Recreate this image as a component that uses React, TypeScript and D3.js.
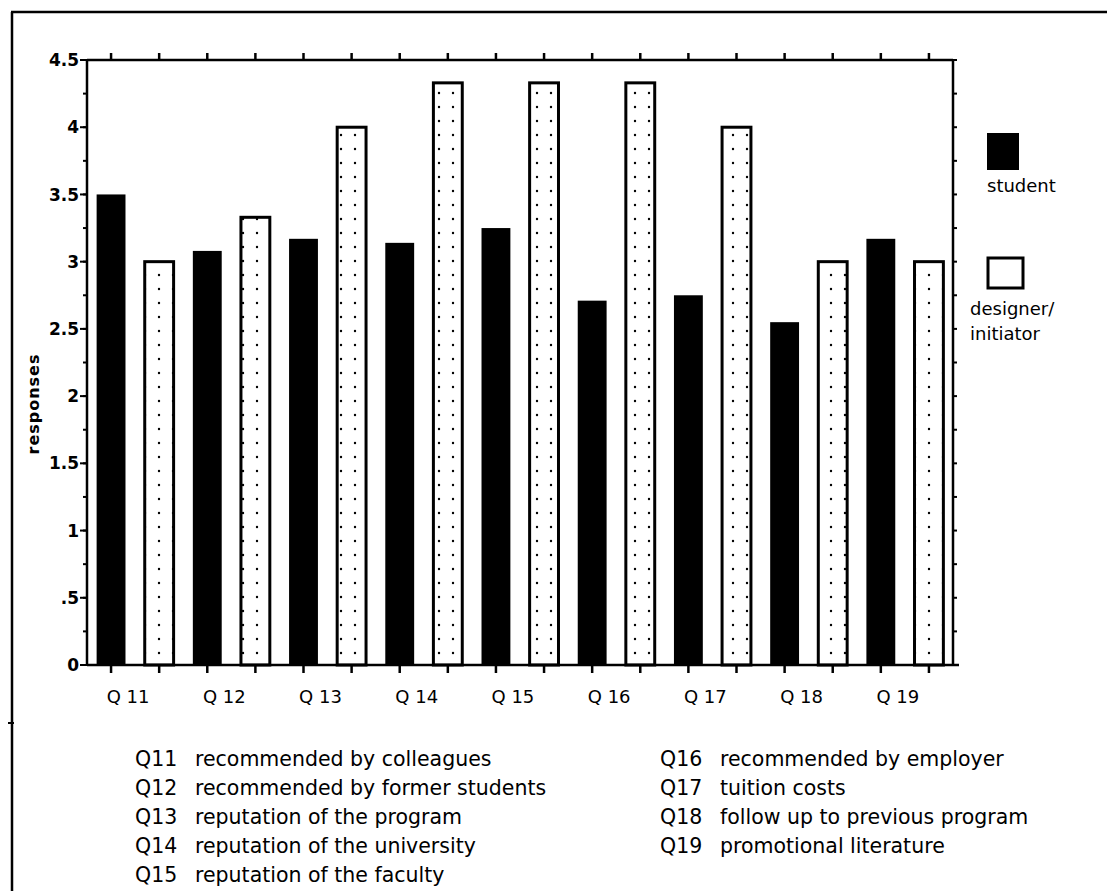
import React from "react";
import * as d3 from "d3";

const categories = ["Q 11", "Q 12", "Q 13", "Q 14", "Q 15", "Q 16", "Q 17", "Q 18", "Q 19"];
const seriesKeys = ["student", "designer"];
const studentValues = [3.5, 3.08, 3.17, 3.14, 3.25, 2.71, 2.75, 2.55, 3.17];
const designerValues = [3.0, 3.33, 4.0, 4.33, 4.33, 4.33, 4.0, 3.0, 3.0];
const yTickValues = [0, 0.5, 1, 1.5, 2, 2.5, 3, 3.5, 4, 4.5];
const yTickLabels = ["0", ".5", "1", "1.5", "2", "2.5", "3", "3.5", "4", "4.5"];
const legendLabels = [["student"], ["designer/", "initiator"]];
const descCodesLeft = ["Q11", "Q12", "Q13", "Q14", "Q15"];
const descTextsLeft = [
  "recommended by colleagues",
  "recommended by former students",
  "reputation of the program",
  "reputation of the university",
  "reputation of the faculty",
];
const descCodesRight = ["Q16", "Q17", "Q18", "Q19"];
const descTextsRight = [
  "recommended by employer",
  "tuition costs",
  "follow up to previous program",
  "promotional literature",
];
const yAxisTitle = "responses";

const W = 1107;
const H = 891;
const M = { left: 87, right: 953, top: 60, bottom: 665 };
const FONT = "'DejaVu Sans', sans-serif";

export default function App() {
  const x0 = d3.scaleBand<string>().domain(categories).range([M.left, M.right]).padding(0);
  const x1 = d3
    .scaleBand<string>()
    .domain(seriesKeys)
    .range([0, x0.bandwidth()])
    .paddingInner(0.4)
    .paddingOuter(0.2);
  const y = d3.scaleLinear().domain([0, 4.5]).range([M.bottom, M.top]);
  const minorTicks = d3.range(0, 4.5001, 0.25);

  const barCenters: number[] = [];
  categories.forEach((c) => {
    seriesKeys.forEach((s) => {
      barCenters.push((x0(c) as number) + (x1(s) as number) + x1.bandwidth() / 2);
    });
  });

  const valuesFor = (s: string) => (s === "student" ? studentValues : designerValues);

  return (
    <svg
      width={W}
      height={H}
      style={{ position: "absolute", left: 0, top: 0, background: "#fff" }}
      fontFamily={FONT}
    >
      <defs>
        <pattern id="dots" patternUnits="userSpaceOnUse" width={14} height={14} x={0} y={0}>
          <rect width={14} height={14} fill="#fff" />
          <circle cx={5} cy={9} r={1.2} fill="#000" />
        </pattern>
      </defs>
      <rect x={0} y={0} width={W} height={H} fill="#fff" />

      {/* outer frame */}
      <line x1={11} y1={12} x2={W} y2={12} stroke="#000" strokeWidth={2.5} />
      <line x1={12} y1={12} x2={12} y2={H} stroke="#000" strokeWidth={2.5} />
      <line x1={8} y1={723} x2={14} y2={723} stroke="#000" strokeWidth={2} />

      {/* bars */}
      {seriesKeys.map((s) =>
        categories.map((c, i) => {
          const v = valuesFor(s)[i];
          const bx = (x0(c) as number) + (x1(s) as number);
          const isStudent = s === "student";
          return (
            <rect
              key={s + c}
              x={bx}
              y={y(v)}
              width={x1.bandwidth()}
              height={y(0) - y(v)}
              fill={isStudent ? "#000" : "url(#dots)"}
              stroke="#000"
              strokeWidth={isStudent ? 0 : 3}
            />
          );
        })
      )}

      {/* plot frame */}
      <line x1={M.left} y1={M.top} x2={M.right} y2={M.top} stroke="#000" strokeWidth={2.5} />
      <line x1={M.left} y1={M.top} x2={M.left} y2={M.bottom} stroke="#000" strokeWidth={2.5} />
      <line x1={M.right} y1={M.top} x2={M.right} y2={M.bottom} stroke="#000" strokeWidth={2.5} />
      <line x1={M.left} y1={M.bottom} x2={M.right + 6} y2={M.bottom} stroke="#000" strokeWidth={2.5} />

      {/* top & bottom ticks at bar centres */}
      {barCenters.map((cx, i) => (
        <g key={"bt" + i}>
          <line x1={cx} y1={M.top} x2={cx} y2={M.top - 7} stroke="#000" strokeWidth={2.5} />
          <line x1={cx} y1={M.bottom} x2={cx} y2={M.bottom + 8} stroke="#000" strokeWidth={2.5} />
        </g>
      ))}

      {/* minor y ticks */}
      {minorTicks.map((t, i) => (
        <g key={"mt" + i}>
          <line x1={M.left} y1={y(t)} x2={M.left - 4} y2={y(t)} stroke="#000" strokeWidth={2} />
          <line x1={M.right} y1={y(t)} x2={M.right + 4} y2={y(t)} stroke="#000" strokeWidth={2} />
        </g>
      ))}

      {/* y tick labels */}
      {yTickValues.map((t, i) => (
        <g key={"yt" + i}>
          <line x1={M.left} y1={y(t)} x2={M.left - 7} y2={y(t)} stroke="#000" strokeWidth={2} />
          <text
            x={M.left - 8}
            y={y(t)}
            dy="0.36em"
            textAnchor="end"
            fontSize={17}
            fontWeight="bold"
            fill="#000"
          >
            {yTickLabels[i]}
          </text>
        </g>
      ))}

      {/* y axis title */}
      <text
        transform={`translate(33, 404) rotate(-90)`}
        textAnchor="middle"
        dy="0.35em"
        fontSize={16}
        fontWeight="bold"
        letterSpacing={1}
        fill="#000"
      >
        {yAxisTitle}
      </text>

      {/* category labels */}
      {categories.map((c) => (
        <text
          key={"cl" + c}
          x={(x0(c) as number) + (x1("student") as number) + x1.bandwidth() / 2 + 17}
          y={703}
          textAnchor="middle"
          fontSize={18}
          fill="#000"
        >
          {c}
        </text>
      ))}

      {/* legend */}
      <rect x={987} y={133} width={32} height={37} fill="#000" />
      <text x={987} y={192} fontSize={18} fill="#000">
        {legendLabels[0][0]}
      </text>
      <rect x={988} y={258} width={35} height={30} fill="#fff" stroke="#000" strokeWidth={3} />
      <text x={970} y={315} fontSize={18} fill="#000">
        {legendLabels[1][0]}
      </text>
      <text x={970} y={340} fontSize={18} fill="#000">
        {legendLabels[1][1]}
      </text>

      {/* descriptions */}
      {descCodesLeft.map((code, i) => (
        <g key={"dl" + i}>
          <text x={135} y={766 + i * 29} fontSize={20.5} fill="#000">
            {code}
          </text>
          <text x={195} y={766 + i * 29} fontSize={20.5} fill="#000">
            {descTextsLeft[i]}
          </text>
        </g>
      ))}
      {descCodesRight.map((code, i) => (
        <g key={"dr" + i}>
          <text x={660} y={766 + i * 29} fontSize={20.5} fill="#000">
            {code}
          </text>
          <text x={720} y={766 + i * 29} fontSize={20.5} fill="#000">
            {descTextsRight[i]}
          </text>
        </g>
      ))}
    </svg>
  );
}
